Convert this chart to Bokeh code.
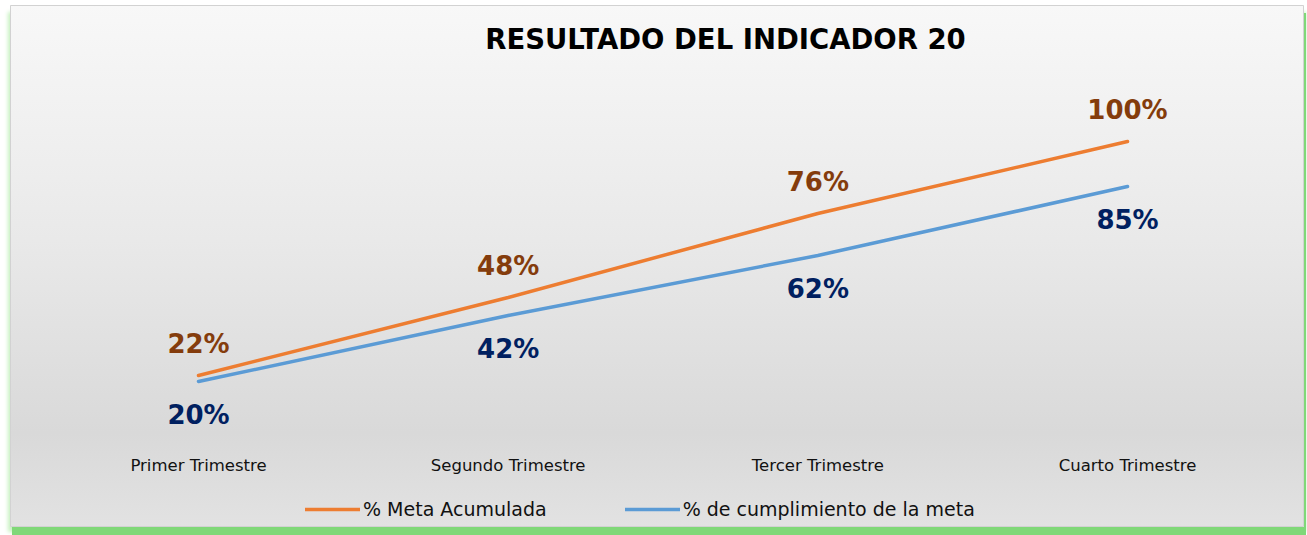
from bokeh.plotting import figure
from bokeh.models import Range1d, Legend, LegendItem, ColumnDataSource
from bokeh.core.properties import value
from bokeh.embed import file_html
from bokeh.resources import INLINE

# ---- data ----
categories = ["Primer Trimestre", "Segundo Trimestre", "Tercer Trimestre", "Cuarto Trimestre"]
meta_acumulada = [22, 48, 76, 100]
cumplimiento = [20, 42, 62, 85]
series_names = ["% Meta Acumulada", "% de cumplimiento de la meta"]
title_text = "RESULTADO DEL INDICADOR 20"

# ---- layout helpers (page pixel -> data) ----
X0, XSTEP = 198.0, 309.67
Y0, YSTEP = 441.0, 3.0
def dx(px):
    return (px - X0) / XSTEP
def dy(py):
    return (Y0 - py) / YSTEP

LEFT, TOP = 10, 5
W, H = 1294, 522
FONT = "DejaVu Sans"

p = figure(width=W, height=H, output_backend="svg", toolbar_location=None,
           x_range=Range1d(dx(LEFT), dx(LEFT + W)), y_range=Range1d(dy(TOP + H), dy(TOP)),
           min_border=0, min_border_left=0, min_border_right=0,
           min_border_top=0, min_border_bottom=0)
p.axis.visible = False
p.grid.visible = False
p.background_fill_alpha = 0
p.border_fill_alpha = 0
p.outline_line_color = "#d2d2d2"
p.outline_line_width = 1
p.styles = {
    "margin-left": f"{LEFT}px",
    "margin-top": f"{TOP}px",
    "background": "linear-gradient(to bottom, #f8f8f8 0%, #e9e9e9 45%, #d9d9d9 82%, #e2e2e2 100%)",
    "box-shadow": "2px 8px 0 0 #80d878, -3px 6px 4px -1px #c6f1bf, 3px 6px 4px -1px #c6f1bf",
}

idx = list(range(len(categories)))
src = ColumnDataSource(dict(
    x=idx,
    meta=meta_acumulada,
    cump=cumplimiento,
    meta_lbl=[f"{v}%" for v in meta_acumulada],
    cump_lbl=[f"{v}%" for v in cumplimiento],
    cat=categories,
    cat_y=[dy(465)] * len(categories),
))

r1 = p.line("x", "meta", source=src, line_color="#ED7D31", line_width=3.5, line_cap="round")
r2 = p.line("x", "cump", source=src, line_color="#5B9BD5", line_width=3.5, line_cap="round")

p.text("x", "meta", text="meta_lbl", source=src, text_align="center", text_baseline="middle",
       y_offset=-32, text_font=value(FONT), text_font_style="bold", text_font_size="26px",
       text_color="#843C0C")
p.text("x", "cump", text="cump_lbl", source=src, text_align="center", text_baseline="middle",
       y_offset=33, text_font=value(FONT), text_font_style="bold", text_font_size="26px",
       text_color="#002060")

# category labels
p.text("x", "cat_y", text="cat", source=src, text_align="center", text_baseline="middle",
       text_font=value(FONT), text_font_size="16.5px", text_color="#111111")

# title
p.text(x=[dx(725)], y=[dy(38)], text=[title_text], text_align="center", text_baseline="middle",
       text_font=value(FONT), text_font_style="bold", text_font_size="27.5px", text_color="#000000")

legend = Legend(items=[LegendItem(label=series_names[0], renderers=[r1]),
                       LegendItem(label=series_names[1], renderers=[r2])],
                orientation="horizontal", location=(305 - LEFT, 7))
legend.glyph_width = 55
legend.glyph_height = 20
legend.label_standoff = 3
legend.spacing = 78
legend.padding = 0
legend.margin = 0
legend.background_fill_alpha = 0
legend.border_line_alpha = 0
legend.label_text_font = FONT
legend.label_text_font_size = "19px"
legend.label_text_color = "#111111"
p.add_layout(legend)

open("out.html", "w").write(file_html(p, INLINE))
